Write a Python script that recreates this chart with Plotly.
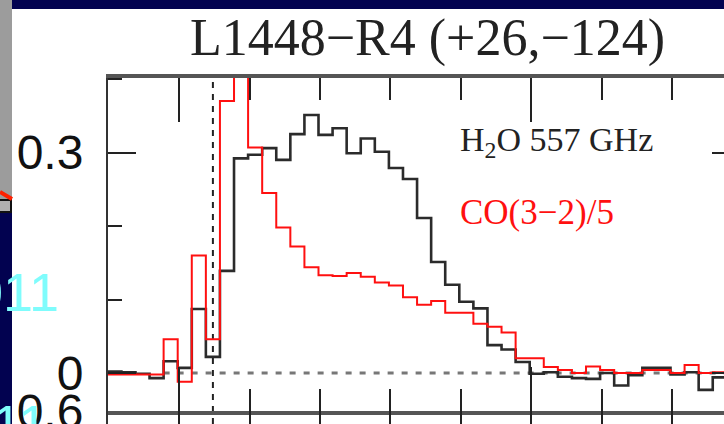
import plotly.graph_objects as go

# Velocity channel centres (km/s), 2 km/s channels
velocity = [-11.2, -9.2, -7.2, -5.2, -3.2, -1.2, 0.8, 2.8, 4.8, 6.8, 8.8, 10.8,
            12.8, 14.8, 16.8, 18.8, 20.8, 22.8, 24.8, 26.8, 28.8, 30.8, 32.8,
            34.8, 36.8, 38.8, 40.8, 42.8, 44.8, 46.8, 48.8, 50.8, 52.8, 54.8,
            56.8, 58.8, 60.8, 62.8, 64.8, 66.8, 68.8, 70.8, 72.8, 74.8, 76.8,
            78.8]

# H2O 557 GHz antenna temperature (K)
h2o = [0.002, 0.002, 0.001, -0.001, -0.007, 0.016, 0.007, 0.087, 0.022, 0.139,
       0.292, 0.297, 0.306, 0.290, 0.325, 0.351, 0.324, 0.333, 0.299, 0.319,
       0.301, 0.279, 0.264, 0.211, 0.151, 0.120, 0.097, 0.088, 0.038, 0.032,
       0.015, -0.001, 0.001, -0.005, -0.007, -0.008, 0.000, -0.017, -0.003,
       0.007, 0.007, -0.002, 0.001, -0.023, -0.006, -0.004]

# CO(3-2) scaled down by 5
co32 = [-0.002, -0.002, -0.002, -0.002, -0.002, 0.046, -0.012, 0.160, 0.046,
        0.370, 0.520, 0.307, 0.245, 0.198, 0.172, 0.144, 0.133, 0.132, 0.136,
        0.131, 0.123, 0.119, 0.103, 0.093, 0.098, 0.082, 0.082, 0.067, 0.063,
        0.055, 0.020, 0.020, 0.008, 0.004, 0.000, 0.009, 0.004, 0.000, 0.000,
        0.004, 0.004, 0.000, 0.011, 0.000, 0.001, 0.001]

v_sys = 4.8
title_text = "L1448\u2212R4 (+26,\u2212124)"
label_h2o = "H<sub>2</sub>O 557 GHz"
label_co = "CO(3\u22122)/5"

W, H = 724, 424
ML, MT = 108, 78
PW, PH = W - ML, H - MT


def px(xp):
    return (xp - ML) / PW


def py(yp):
    return (H - yp) / PH


split = py(411)

fig = go.Figure()
fig.add_trace(go.Scatter(x=velocity, y=h2o, mode="lines",
                         line=dict(color="#2b2b2b", width=2.6, shape="hvh"),
                         hoverinfo="skip"))
fig.add_trace(go.Scatter(x=velocity, y=co32, mode="lines",
                         line=dict(color="#ff1010", width=2.0, shape="hvh"),
                         hoverinfo="skip"))
# empty traces so the lower panel and the right-hand tick axis are built
fig.add_trace(go.Scatter(x=[], y=[], xaxis="x2", yaxis="y2", mode="lines",
                         hoverinfo="skip"))
fig.add_trace(go.Scatter(x=[], y=[], xaxis="x", yaxis="y3", mode="lines",
                         hoverinfo="skip"))

serif = "Liberation Serif"
sans = "Liberation Sans"

xcommon = dict(range=[-10.1, 77.4], linecolor="#555",
               linewidth=3.5, ticks="inside", ticklen=44, tickwidth=2,
               tickcolor="#222", dtick=50, tick0=0, showticklabels=False,
               showgrid=False, zeroline=False, automargin=False,
               minor=dict(ticks="inside", ticklen=22, tickwidth=2,
                          tickcolor="#222", dtick=10, tick0=0, showgrid=False))

ytickfont = dict(family=sans, size=48, color="#111")

fig.update_layout(
    width=W, height=H,
    margin=dict(l=ML, r=0, t=MT, b=0),
    paper_bgcolor="white", plot_bgcolor="white",
    showlegend=False,
    xaxis=dict(domain=[0, 1], anchor="y", mirror="ticks", showline=True,
               **xcommon),
    yaxis=dict(domain=[split, 1], anchor="x", range=[-0.0517, 0.4014],
               showline=True, linecolor="#333", linewidth=2,
               ticks="inside", ticklen=28, tickwidth=2, tickcolor="#222",
               tick0=0, dtick=0.3, showgrid=False, zeroline=False,
               automargin=False, ticklabelstandoff=13,
               ticklabeloverflow="allow", tickfont=ytickfont,
               minor=dict(ticks="inside", ticklen=14, tickwidth=2,
                          tickcolor="#222", dtick=0.1, tick0=0,
                          showgrid=False)),
    yaxis3=dict(overlaying="y", side="right", anchor="free", position=1,
                range=[-0.0517, 0.4014], tickvals=[0, 0.3], ticks="inside",
                ticklen=12, tickwidth=2, tickcolor="#222",
                showticklabels=False, showline=False, showgrid=False,
                zeroline=False, automargin=False),
    xaxis2=dict(domain=[0, 1], anchor="y2", side="top", showline=False,
                **xcommon),
    yaxis2=dict(domain=[0, split], anchor="x2", range=[0.553, 0.6],
                tickvals=[0.6], ticktext=["0.6"], showline=True,
                linecolor="#333", linewidth=2, ticks="inside", ticklen=28,
                tickwidth=2, tickcolor="#222", showgrid=False, zeroline=False,
                automargin=False, ticklabelstandoff=13,
                ticklabeloverflow="allow", tickfont=ytickfont),
)

# zero baseline and systemic velocity
fig.add_shape(type="line", xref="x", yref="y", x0=-2.2, x1=77.4, y0=0, y1=0,
              line=dict(color="#777", width=3, dash="6px,8px"), layer="below")
fig.add_shape(type="line", xref="x", yref="paper", x0=v_sys, x1=v_sys,
              y0=0, y1=1, line=dict(color="#222", width=2, dash="6px,6px"),
              layer="below")

# slide frame around the panel
navy = "#020250"
fig.add_shape(type="rect", xref="paper", yref="paper", x0=px(12), x1=px(724),
              y0=py(9), y1=py(0), fillcolor=navy, line_width=0, layer="below")
fig.add_shape(type="rect", xref="paper", yref="paper", x0=px(0), x1=px(12),
              y0=py(201), y1=py(0), fillcolor="#9c9c9c", line_width=0,
              layer="below")
fig.add_shape(type="rect", xref="paper", yref="paper", x0=px(0), x1=px(12),
              y0=py(424), y1=py(212), fillcolor=navy, line_width=0,
              layer="below")
fig.add_shape(type="rect", xref="paper", yref="paper", x0=px(-2), x1=px(11),
              y0=py(212), y1=py(200), fillcolor="#b0b0b0",
              line=dict(color="#111", width=2), layer="below")
fig.add_shape(type="line", xref="paper", yref="paper", x0=px(0), x1=px(12),
              y0=py(192), y1=py(199), line=dict(color="#ff2000", width=4),
              layer="below")

fig.add_annotation(text=title_text, xref="paper", yref="paper",
                   x=px(428), y=py(38), xanchor="center", yanchor="middle",
                   showarrow=False,
                   font=dict(family=serif, size=52, color="#222"))
fig.add_annotation(text=label_h2o, xref="paper", yref="paper",
                   x=px(458), y=py(142), xanchor="left", yanchor="middle",
                   showarrow=False,
                   font=dict(family=serif, size=34, color="#222"))
fig.add_annotation(text=label_co, xref="paper", yref="paper",
                   x=px(458), y=py(212), xanchor="left", yanchor="middle",
                   showarrow=False,
                   font=dict(family=serif, size=35, color="#ff1010"))
fig.add_annotation(text="2011", xref="paper", yref="paper",
                   x=px(61), y=py(292), xanchor="right", yanchor="middle",
                   showarrow=False,
                   font=dict(family=sans, size=54, color="#7ffcfc"))
fig.add_annotation(text="2011", xref="paper", yref="paper",
                   x=px(50), y=py(424), xanchor="right", yanchor="middle",
                   showarrow=False,
                   font=dict(family=sans, size=54, color="#7ffcfc"))

fig.write_html("out.html")
